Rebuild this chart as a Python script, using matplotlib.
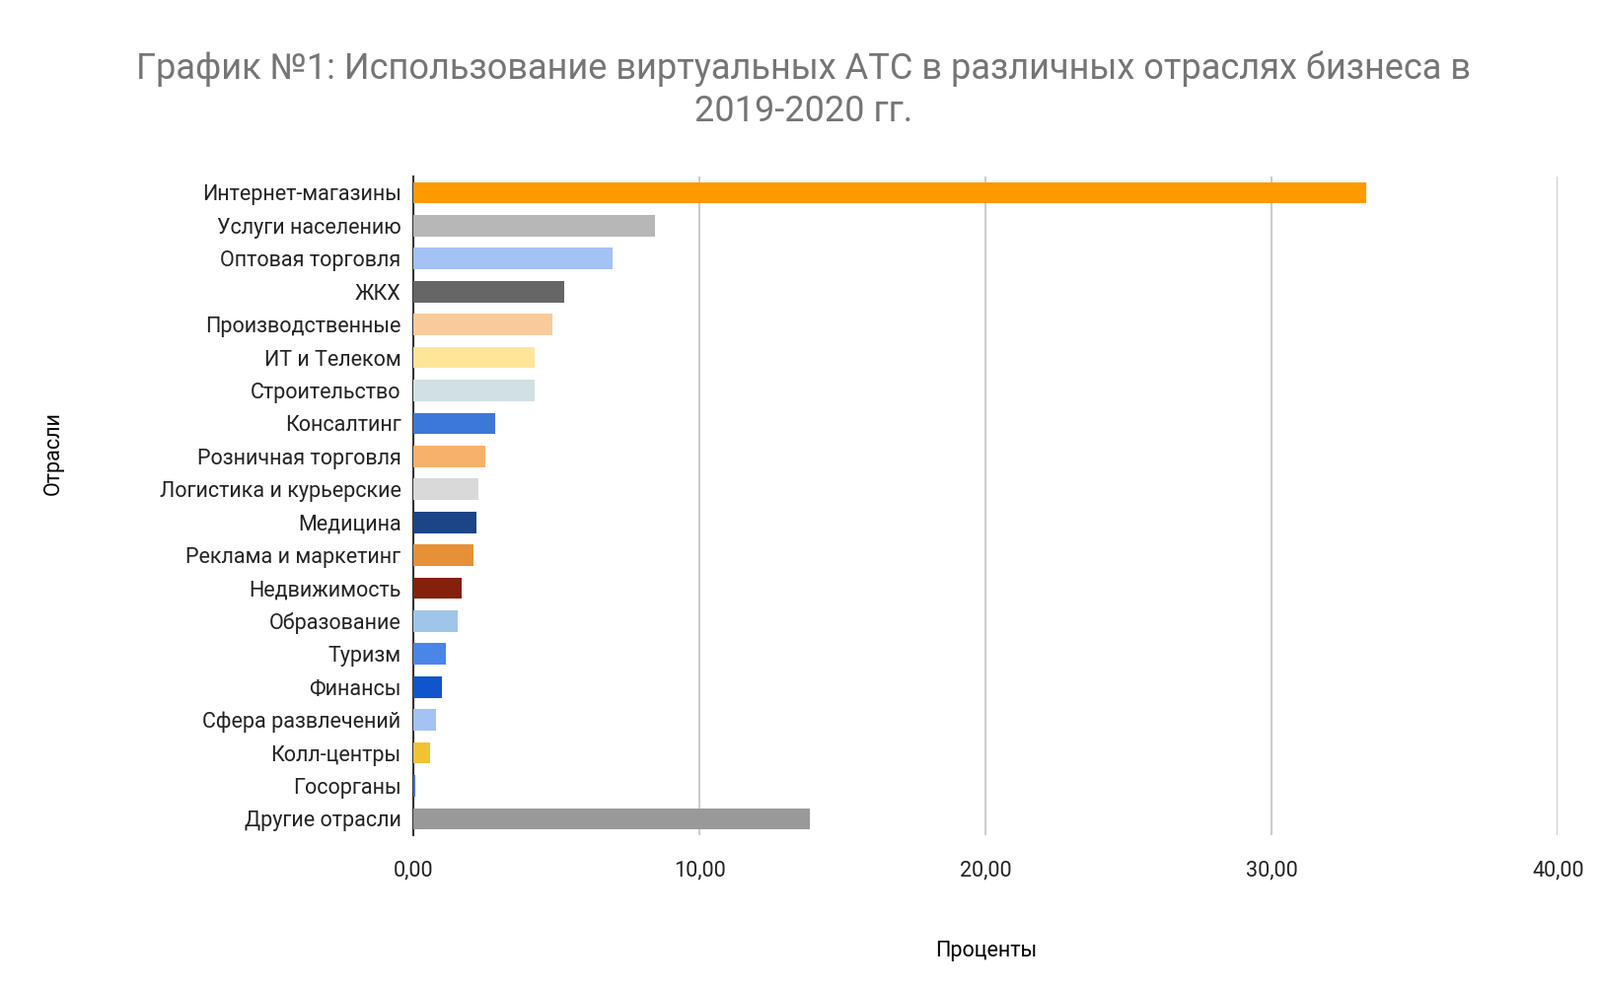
import matplotlib
matplotlib.use("Agg")
import matplotlib.pyplot as plt

categories = ["Интернет-магазины", "Услуги населению", "Оптовая торговля", "ЖКХ",
              "Производственные", "ИТ и Телеком", "Строительство", "Консалтинг",
              "Розничная торговля", "Логистика и курьерские", "Медицина",
              "Реклама и маркетинг", "Недвижимость", "Образование", "Туризм",
              "Финансы", "Сфера развлечений", "Колл-центры", "Госорганы", "Другие отрасли"]
values = [33.3, 8.46, 6.95, 5.27, 4.87, 4.23, 4.23, 2.87, 2.51, 2.29, 2.19, 2.11,
          1.68, 1.54, 1.15, 1.0, 0.79, 0.57, 0.07, 13.87]
colors = ["#ff9900", "#b7b7b7", "#a4c2f4", "#666666", "#f9cb9c", "#ffe599", "#d0e0e3",
          "#3c78d8", "#f6b26b", "#d9d9d9", "#1c4587", "#e69138", "#85200c", "#9fc5e8",
          "#4a86e8", "#1155cc", "#a4c2f4", "#f1c232", "#3c78d8", "#999999"]
xticks = [0, 10, 20, 30, 40]
xticklabels = ["0,00", "10,00", "20,00", "30,00", "40,00"]

W, H = 1560, 964
fig = plt.figure(figsize=(16.22, 10.02), dpi=100)
ax = fig.add_axes([403/W, 1-815/H, (1519-403)/W, (815-172)/H])
y = list(range(len(categories)))
ax.barh(y, values, height=0.65, color=colors, zorder=3)
ax.set_ylim(len(categories)-0.5, -0.5)
ax.set_xlim(0, 40)
ax.set_yticks(y)
ax.set_yticklabels(categories, fontsize=15.5, fontfamily="Roboto", color="#222222")
ax.set_xticks(xticks)
ax.set_xticklabels(xticklabels, fontsize=15.5, fontfamily="Roboto", color="#222222")
ax.tick_params(length=0, pad=9)
ax.tick_params(axis="x", pad=18)
ax.grid(axis="x", color="#cccccc", linewidth=1.5, zorder=0)
for s in ["top", "right", "bottom"]:
    ax.spines[s].set_visible(False)
ax.spines["left"].set_color("#333333")
ax.spines["left"].set_linewidth(1.5)
ax.set_xlabel("Проценты", fontsize=15.5, fontfamily="Roboto", labelpad=44)
ax.set_ylabel("Отрасли", fontsize=15.5, fontfamily="Roboto")
ax.yaxis.set_label_coords((62-403)/(1519-403), 0.58)
fig.text(783/W, 1-50/H, "График №1: Использование виртуальных АТС в различных отраслях бизнеса в\n2019-2020 гг.",
         ha="center", va="top", fontsize=26, fontfamily="Roboto", color="#757575", linespacing=1.25)
fig.savefig("out.png", dpi=100, facecolor="white")
